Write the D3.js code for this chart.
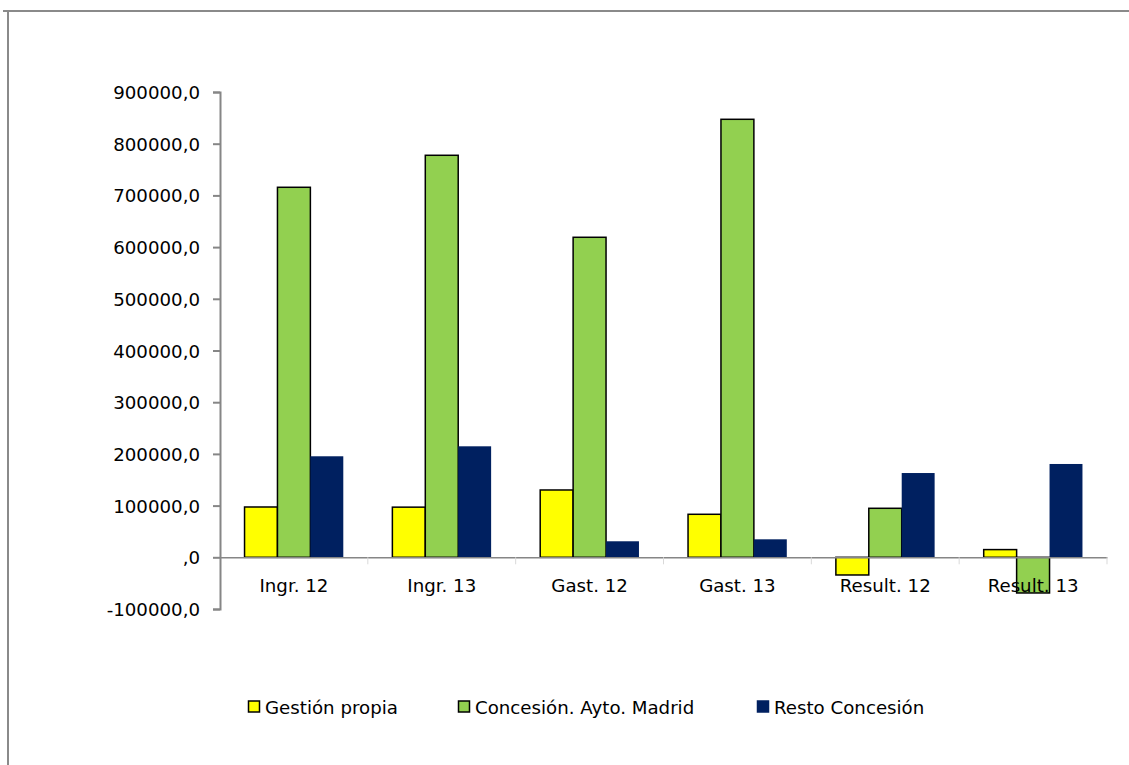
<!DOCTYPE html>
<html><head><meta charset="utf-8">
<script src="https://cdn.jsdelivr.net/npm/d3@7"></script>
<style>html,body{margin:0;padding:0;background:#fff;}svg{display:block;}</style>
</head><body>
<script>
const categories = ["Ingr. 12","Ingr. 13","Gast. 12","Gast. 13","Result. 12","Result. 13"];
const seriesNames = ["Gestión propia","Concesión. Ayto. Madrid","Resto Concesión"];
const gestionPropia = [97300, 97000, 130200, 83200, -34200, 14900];
const concesionAyto = [715700, 777600, 619000, 847200, 94800, -69000];
const restoConcesion = [195400, 214700, 31000, 34800, 163000, 180500];
const seriesColors = ["#FFFF00","#92D050","#002060"];
const seriesStroke = ["#000","#000","none"];
const yTicks = [-100000,0,100000,200000,300000,400000,500000,600000,700000,800000,900000];

const W=1129,H=765;
const svg=d3.select("body").append("svg").attr("width",W).attr("height",H);
const font="'DejaVu Sans', sans-serif";
const fs=18.2;

// frame
svg.append("line").attr("x1",3).attr("x2",W).attr("y1",11).attr("y2",11).attr("stroke","#8a8a8a").attr("stroke-width",2);
svg.append("line").attr("x1",8).attr("x2",8).attr("y1",11).attr("y2",H).attr("stroke","#8a8a8a").attr("stroke-width",2);

const x0=d3.scaleBand().domain(categories).range([220,1107]).paddingInner(0).paddingOuter(0);
const y=d3.scaleLinear().domain([-100000,900000]).range([609,92]);
const series=[gestionPropia,concesionAyto,restoConcesion];
const bw=x0.bandwidth();
const x1=d3.scaleBand().domain([0,1,2]).range([bw*0.166,bw*0.834]).padding(0);

// bars
series.forEach((vals,si)=>{
  svg.append("g").selectAll("rect").data(vals).join("rect")
    .attr("x",(d,i)=>x0(categories[i])+x1(si))
    .attr("width",x1.bandwidth())
    .attr("y",d=>y(Math.max(0,d)))
    .attr("height",d=>Math.abs(y(d)-y(0)))
    .attr("fill",seriesColors[si])
    .attr("stroke",seriesStroke[si])
    .attr("stroke-width",1.5);
});

// y axis
const yAxis=svg.append("g").attr("transform","translate(220,0)")
  .call(d3.axisLeft(y).tickValues(yTicks).tickSize(7).tickPadding(13)
    .tickFormat(d=>d===0?",0":(d<0?"-":"")+String(Math.abs(d))+",0"));
yAxis.select(".domain").attr("stroke","#868686").attr("stroke-width",2);
yAxis.selectAll(".tick line").attr("stroke","#868686").attr("stroke-width",2);
yAxis.selectAll("text").attr("font-family",font).attr("font-size",fs).attr("fill","#000").attr("dy","0.36em");

// x axis at zero
const xAxis=svg.append("g").attr("transform",`translate(0,${y(0)})`)
  .call(d3.axisBottom(x0).tickSize(0).tickPadding(22));
xAxis.select(".domain").attr("stroke","#868686").attr("stroke-width",1.5);
xAxis.selectAll("text").attr("font-family",font).attr("font-size",fs).attr("fill","#000");
// category separator ticks
svg.append("g").selectAll("line").data(categories).join("line")
  .attr("x1",d=>x0(d)+bw).attr("x2",d=>x0(d)+bw)
  .attr("y1",y(0)).attr("y2",y(0)+7).attr("stroke","#d9d9d9").attr("stroke-width",1);

// legend
const legX=[248,458,757];
const lg=svg.append("g");
seriesNames.forEach((n,i)=>{
  lg.append("rect").attr("x",legX[i]+0.5).attr("y",701).attr("width",11).attr("height",11)
    .attr("fill",seriesColors[i]).attr("stroke",seriesStroke[i]==="none"?seriesColors[i]:"#000").attr("stroke-width",1.5);
  lg.append("text").attr("x",legX[i]+17).attr("y",714).text(n)
    .attr("font-family",font).attr("font-size",fs).attr("fill","#000");
});
</script>
</body></html>
